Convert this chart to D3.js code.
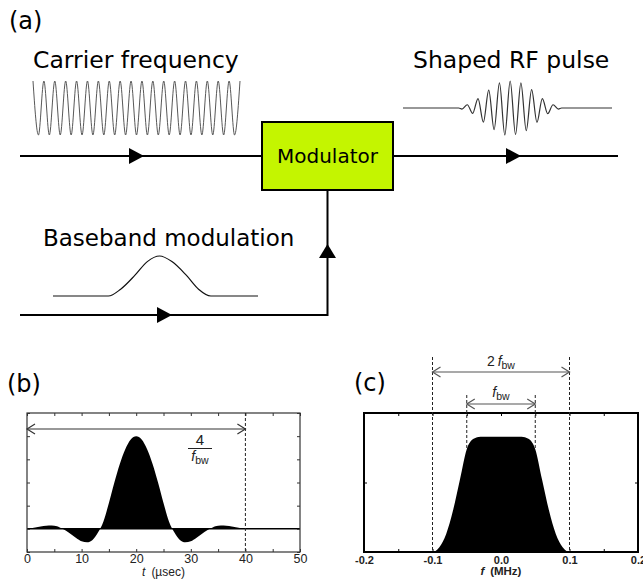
<!DOCTYPE html>
<html>
<head>
<meta charset="utf-8">
<script src="https://cdn.jsdelivr.net/npm/d3@7"></script>
<style>
  body { margin: 0; background: #fff; }
  svg { display: block; }
</style>
</head>
<body>
<div id="chart"></div>
<script>
// ---- values ----

// (a) carrier: successive extremes, 19 cycles
var carrierExtremes = [1,-1,1,-1,1,-1,1,-1,1,-1,1,-1,1,-1,1,-1,1,-1,1,-1,
                       1,-1,1,-1,1,-1,1,-1,1,-1,1,-1,1,-1,1,-1,1,-1,1];
// (a) shaped RF pulse: successive extremes of the modulated carrier
var rfExtremes = [-0.04,0.12,-0.2,0.35,-0.52,0.66,-0.8,0.93,-1,1,-0.98,0.93,-0.84,0.68,-0.53,0.35,-0.21,0.12,-0.04];
// (a) baseband envelope (position in % of sketch width)
var basebandPos = [0,27,33,40,46,52,58,65,71,77,100];
var basebandVal = [0,0,0.17,0.52,0.86,1,0.86,0.52,0.17,0,0];

// (b) time-domain pulse, t in usec
var pulseT = [0,1,2,3,4,5,6,7,8,9,10,11,12,13,14,15,16,17,18,19,20,
              21,22,23,24,25,26,27,28,29,30,31,32,33,34,35,36,37,38,39,40,
              41,42,43,44,45,46,47,48,49,50];
var pulseV = [0,0.01,0.02,0.03,0.035,0.033,0.015,-0.015,-0.055,-0.1,-0.135,-0.145,-0.12,-0.04,0.08,0.28,0.5,0.7,0.86,0.965,1,
              0.965,0.86,0.7,0.5,0.28,0.08,-0.04,-0.12,-0.145,-0.135,-0.1,-0.055,-0.015,0.015,0.033,0.035,0.03,0.02,0.01,0,
              0,0,0,0,0,0,0,0,0,0];
var bTickLabels = [0,10,20,30,40,50];
var bMinorTicks = [0,5,10,15,20,25,30,35,40,45,50];
var bYTicks = [-0.25,0,0.25,0.5,0.75,1,1.25];

// (c) spectrum, f in MHz
var specF = [-0.2,-0.19,-0.18,-0.17,-0.16,-0.15,-0.14,-0.13,-0.12,-0.11,-0.1,-0.09,-0.08,-0.07,-0.06,-0.05,-0.04,-0.03,-0.02,-0.01,0,
             0.01,0.02,0.03,0.04,0.05,0.06,0.07,0.08,0.09,0.1,0.11,0.12,0.13,0.14,0.15,0.16,0.17,0.18,0.19,0.2];
var specV = [0,0,0,0,0,0,0,0,0,0,0,0.035,0.13,0.3,0.52,0.74,0.815,0.83,0.83,0.83,0.83,
             0.83,0.83,0.83,0.815,0.74,0.52,0.3,0.13,0.035,0,0,0,0,0,0,0,0,0,0,0];
var cTickLabels = [-0.2,-0.1,0.0,0.1,0.2];
var cMinorTicks = [-0.2,-0.15,-0.1,-0.05,0,0.05,0.1,0.15,0.2];
var cYTicks = [0.5];

var diagramFont = "DejaVu Sans, Verdana, sans-serif";
var plotFont = "Liberation Sans, Arial, sans-serif";

var svg = d3.select("#chart").append("svg")
  .attr("width", 643).attr("height", 581);

// ================= (a) block diagram =================
svg.append("text").attr("x", 9).attr("y", 29).text("(a)")
  .style("font-family", diagramFont).style("font-size", "24px");
svg.append("text").attr("x", 33).attr("y", 68).text("Carrier frequency")
  .style("font-family", diagramFont).style("font-size", "23.5px");
svg.append("text").attr("x", 413).attr("y", 68).text("Shaped RF pulse")
  .style("font-family", diagramFont).style("font-size", "23.5px");
svg.append("text").attr("x", 43).attr("y", 246).text("Baseband modulation")
  .style("font-family", diagramFont).style("font-size", "23px");

// carrier wave
var xc = d3.scaleLinear().domain([0, carrierExtremes.length - 1]).range([33, 240]);
var yc = d3.scaleLinear().domain([-1, 1]).range([135, 81]);
svg.append("path")
  .datum(carrierExtremes)
  .attr("d", d3.line().x(function(d, i){ return xc(i); }).y(function(d){ return yc(d); }).curve(d3.curveMonotoneX))
  .attr("fill", "none").attr("stroke", "#444").attr("stroke-width", 0.9);

// RF pulse: flat tails plus the extremes
var xr = d3.scaleLinear().domain([-11, 28]).range([403, 612]);
var yr = d3.scaleLinear().domain([-1, 1]).range([135, 81]);
var rfPts = [[-11, 0], [-0.6, 0]];
rfExtremes.forEach(function(v, i){ rfPts.push([i, v]); });
rfPts.push([rfExtremes.length - 0.4, 0]);
rfPts.push([28, 0]);
svg.append("path")
  .datum(rfPts)
  .attr("d", d3.line().x(function(d){ return xr(d[0]); }).y(function(d){ return yr(d[1]); }).curve(d3.curveMonotoneX))
  .attr("fill", "none").attr("stroke", "#333").attr("stroke-width", 1.2);

// baseband envelope
var xbb = d3.scaleLinear().domain([0, 100]).range([53, 258]);
var ybb = d3.scaleLinear().domain([0, 1]).range([296, 256]);
svg.append("path")
  .datum(basebandPos.map(function(p, i){ return [p, basebandVal[i]]; }))
  .attr("d", d3.line().x(function(d){ return xbb(d[0]); }).y(function(d){ return ybb(d[1]); }).curve(d3.curveMonotoneX))
  .attr("fill", "none").attr("stroke", "#111").attr("stroke-width", 1.2);

// signal lines
var lineStyle = function(sel){ sel.attr("fill", "none").attr("stroke", "#000").attr("stroke-width", 2); };
svg.append("path").attr("d", "M20,156H262").call(lineStyle);
svg.append("path").attr("d", "M393,156H618").call(lineStyle);
svg.append("path").attr("d", "M20,315H327.5V190").call(lineStyle);

// arrow heads
function triRight(x, y){ return "M" + x + "," + (y - 8) + "L" + (x + 15) + "," + y + "L" + x + "," + (y + 8) + "Z"; }
svg.append("path").attr("d", triRight(129, 156)).attr("fill", "#000");
svg.append("path").attr("d", triRight(506, 156)).attr("fill", "#000");
svg.append("path").attr("d", triRight(157, 315)).attr("fill", "#000");
svg.append("path").attr("d", "M319,258L327.5,244L336,258Z").attr("fill", "#000");

// modulator box
svg.append("rect").attr("x", 262).attr("y", 122).attr("width", 131).attr("height", 68)
  .attr("fill", "#c4f500").attr("stroke", "#000").attr("stroke-width", 2);
svg.append("text").attr("x", 327.5).attr("y", 163).text("Modulator")
  .attr("text-anchor", "middle")
  .style("font-family", diagramFont).style("font-size", "20px");

// ================= helpers =================
function doubleArrow(g, x1, x2, y, color){
  g.append("path").attr("d", "M" + x1 + "," + y + "H" + x2)
    .attr("stroke", color).attr("stroke-width", 1.2).attr("fill", "none");
  g.append("path").attr("d", "M" + (x1 + 8) + "," + (y - 5) + "L" + x1 + "," + y + "L" + (x1 + 8) + "," + (y + 5))
    .attr("stroke", color).attr("stroke-width", 1.2).attr("fill", "none");
  g.append("path").attr("d", "M" + (x2 - 8) + "," + (y - 5) + "L" + x2 + "," + y + "L" + (x2 - 8) + "," + (y + 5))
    .attr("stroke", color).attr("stroke-width", 1.2).attr("fill", "none");
}
function fbwLabel(g, x, y, prefix){
  var t = g.append("text").attr("x", x).attr("y", y).attr("text-anchor", "middle")
    .style("font-family", plotFont).style("font-size", "14px").attr("fill", "#222");
  if (prefix) t.append("tspan").text(prefix + "\u2009");
  t.append("tspan").text("f").style("font-style", "italic");
  t.append("tspan").text("bw").attr("dy", 3).style("font-size", "10.5px");
}
function styleAxis(g, color, font, size, weight){
  g.select(".domain").remove();
  g.selectAll(".tick line").attr("stroke", color);
  g.attr("font-family", font).attr("font-size", size).attr("font-weight", weight);
  g.selectAll("text").attr("fill", "#222");
}

// ================= (b) time domain =================
svg.append("text").attr("x", 7).attr("y", 392).text("(b)")
  .style("font-family", diagramFont).style("font-size", "24px");

var xb = d3.scaleLinear().domain([0, 50]).range([27, 300]);
var yb = d3.scaleLinear().domain([-0.25, 1.25]).range([552, 413]);
var gb = svg.append("g");

gb.append("path")
  .datum(pulseT.map(function(t, i){ return [t, pulseV[i]]; }))
  .attr("d", d3.area().x(function(d){ return xb(d[0]); }).y0(yb(0)).y1(function(d){ return yb(d[1]); }).curve(d3.curveMonotoneX))
  .attr("fill", "#000");
gb.append("line").attr("x1", xb(0)).attr("x2", xb(50)).attr("y1", yb(0)).attr("y2", yb(0))
  .attr("stroke", "#000").attr("stroke-width", 1.5);

gb.append("g").attr("transform", "translate(0," + yb(-0.25) + ")")
  .call(d3.axisBottom(xb).tickValues(bMinorTicks).tickSize(-3).tickPadding(2)
    .tickFormat(function(d){ return bTickLabels.indexOf(d) >= 0 ? d : ""; }))
  .call(styleAxis, "#333", plotFont, 12.5, "normal");
gb.append("g").attr("transform", "translate(0," + yb(1.25) + ")")
  .call(d3.axisTop(xb).tickValues(bMinorTicks).tickSize(-3).tickFormat(""))
  .call(styleAxis, "#333", plotFont, 13, "normal");
gb.append("g").attr("transform", "translate(" + xb(0) + ",0)")
  .call(d3.axisLeft(yb).tickValues(bYTicks).tickSize(-3).tickFormat(""))
  .call(styleAxis, "#333", plotFont, 13, "normal");
gb.append("g").attr("transform", "translate(" + xb(50) + ",0)")
  .call(d3.axisRight(yb).tickValues(bYTicks).tickSize(-3).tickFormat(""))
  .call(styleAxis, "#333", plotFont, 13, "normal");
gb.append("rect").attr("x", xb(0)).attr("y", yb(1.25))
  .attr("width", xb(50) - xb(0)).attr("height", yb(-0.25) - yb(1.25))
  .attr("fill", "none").attr("stroke", "#333").attr("stroke-width", 1.2);

gb.append("line").attr("x1", xb(40)).attr("x2", xb(40)).attr("y1", yb(1.25)).attr("y2", yb(-0.25))
  .attr("stroke", "#222").attr("stroke-width", 1).attr("stroke-dasharray", "3,2");
doubleArrow(gb, xb(0), xb(40), 429, "#333");

gb.append("text").attr("x", 200).attr("y", 445).text("4").attr("text-anchor", "middle")
  .style("font-family", plotFont).style("font-size", "15px").attr("fill", "#222");
gb.append("line").attr("x1", 188).attr("x2", 212).attr("y1", 448.5).attr("y2", 448.5)
  .attr("stroke", "#222").attr("stroke-width", 1);
fbwLabel(gb, 200, 461, null);

var bx = gb.append("text").attr("x", xb(25)).attr("y", 576).attr("text-anchor", "middle")
  .style("font-family", plotFont).style("font-size", "12px").attr("fill", "#222");
bx.append("tspan").text("t").style("font-style", "italic");
bx.append("tspan").text("\u2002(\u00b5sec)");

// ================= (c) spectrum =================
svg.append("text").attr("x", 354).attr("y", 391).text("(c)")
  .style("font-family", diagramFont).style("font-size", "24px");

var xs = d3.scaleLinear().domain([-0.2, 0.2]).range([364, 638]);
var ys = d3.scaleLinear().domain([0, 1]).range([552, 413]);
var gc = svg.append("g");

gc.append("path")
  .datum(specF.map(function(f, i){ return [f, specV[i]]; }))
  .attr("d", d3.area().x(function(d){ return xs(d[0]); }).y0(ys(0)).y1(function(d){ return ys(d[1]); }).curve(d3.curveMonotoneX))
  .attr("fill", "#000");

gc.append("g").attr("transform", "translate(0," + ys(0) + ")")
  .call(d3.axisBottom(xs).tickValues(cMinorTicks).tickSize(-3).tickPadding(4)
    .tickFormat(function(d){
      var hit = cTickLabels.filter(function(v){ return Math.abs(v - d) < 1e-9; });
      return hit.length ? hit[0].toFixed(1) : "";
    }))
  .call(styleAxis, "#000", plotFont, 11, "bold");
gc.append("g").attr("transform", "translate(0," + ys(1) + ")")
  .call(d3.axisTop(xs).tickValues(cMinorTicks).tickSize(-3).tickFormat(""))
  .call(styleAxis, "#000", plotFont, 11, "bold");
gc.append("g").attr("transform", "translate(" + xs(-0.2) + ",0)")
  .call(d3.axisLeft(ys).tickValues(cYTicks).tickSize(-3).tickFormat(""))
  .call(styleAxis, "#000", plotFont, 11, "bold");
gc.append("g").attr("transform", "translate(" + xs(0.2) + ",0)")
  .call(d3.axisRight(ys).tickValues(cYTicks).tickSize(-3).tickFormat(""))
  .call(styleAxis, "#000", plotFont, 11, "bold");
gc.append("rect").attr("x", xs(-0.2)).attr("y", ys(1))
  .attr("width", xs(0.2) - xs(-0.2)).attr("height", ys(0) - ys(1))
  .attr("fill", "none").attr("stroke", "#000").attr("stroke-width", 2);

// bandwidth markers
function specAt(f){
  var i = specF.findIndex(function(v){ return Math.abs(v - f) < 1e-9; });
  return specV[i];
}
[-0.1, 0.1].forEach(function(f){
  gc.append("line").attr("x1", xs(f)).attr("x2", xs(f)).attr("y1", 357).attr("y2", ys(0))
    .attr("stroke", "#222").attr("stroke-width", 1).attr("stroke-dasharray", "3,2");
});
[-0.05, 0.05].forEach(function(f){
  gc.append("line").attr("x1", xs(f)).attr("x2", xs(f)).attr("y1", 395).attr("y2", ys(specAt(f)))
    .attr("stroke", "#222").attr("stroke-width", 1).attr("stroke-dasharray", "3,2");
});
doubleArrow(gc, xs(-0.1), xs(0.1), 372, "#555");
doubleArrow(gc, xs(-0.05), xs(0.05), 404, "#555");
fbwLabel(gc, xs(0), 366, "2");
fbwLabel(gc, xs(0), 397, null);

var cx = gc.append("text").attr("x", xs(0)).attr("y", 575).attr("text-anchor", "middle")
  .style("font-family", plotFont).style("font-size", "11.5px").style("font-weight", "bold").attr("fill", "#222");
cx.append("tspan").text("f").style("font-style", "italic");
cx.append("tspan").text("\u2002(MHz)");
</script>
</body>
</html>
